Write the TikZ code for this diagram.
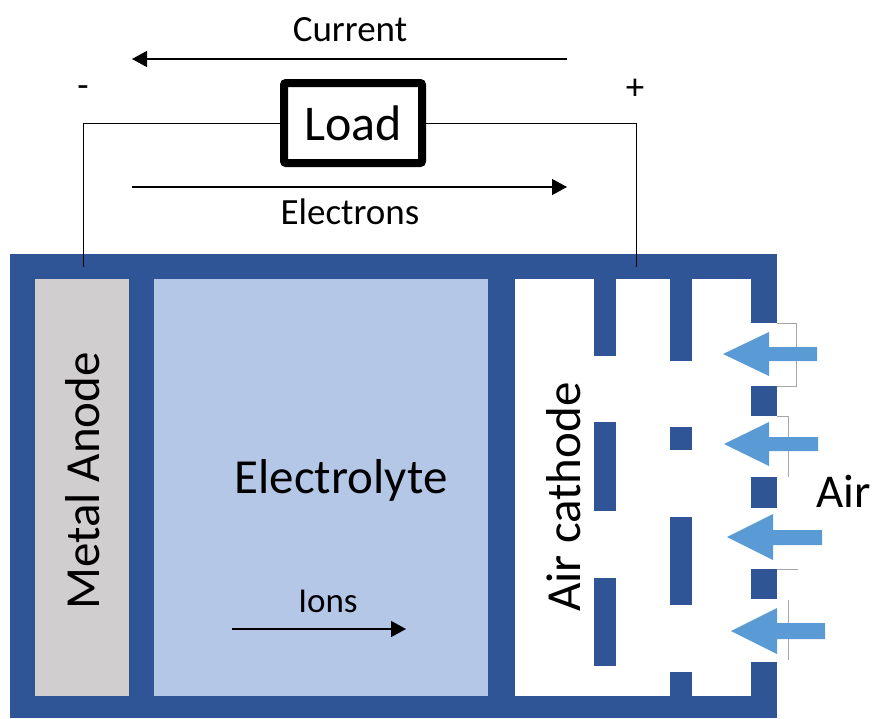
\documentclass[tikz,border=0pt]{standalone}
\usepackage{fontspec}
\setmainfont{Carlito}
\usetikzlibrary{arrows.meta}
\definecolor{frameblue}{HTML}{2F5597}
\definecolor{elecblue}{HTML}{B4C7E7}
\definecolor{anodegray}{HTML}{D0CECE}
\definecolor{airblue}{HTML}{5B9BD5}
\definecolor{brackgray}{HTML}{A6A6A6}
\newcommand\myairarrow[7]{%
  \fill[airblue] (#1,#2) -- (#3,#2-#5) -- (#3,#2-#6) -- (#4,#2-#6) -- (#4,#2+#7) -- (#3,#2+#7) -- (#3,#2+#5) -- cycle;}
\begin{document}
\begin{tikzpicture}[x=1pt,y=-1pt,
  lbl/.style={inner sep=0pt, font=\fontsize{37}{40}\selectfont},
  biglbl/.style={inner sep=0pt, font=\fontsize{49}{52}\selectfont},
  wire/.style={draw=black, line width=1pt},
  flow/.style={draw=black, line width=1.3pt, -{Triangle[length=15pt,width=16pt]}},
  bracket/.style={draw=brackgray, line width=1pt},
  loadbox/.style={draw=black, line width=8pt, rounded corners=2pt, fill=white,
    minimum width=138pt, minimum height=80pt, inner sep=0pt,
    font=\fontsize{50}{52}\selectfont}]
\useasboundingbox (0,0) rectangle (874,718);
% frame
\fill[frameblue] (10,254) rectangle (777,718);
\fill[anodegray] (35,279) rectangle (129,696);
\fill[elecblue] (154,279) rectangle (488,696);
\fill[white] (515,279) rectangle (751,696);
% openings in right wall
\foreach \a/\b in {323/386, 416/477, 508/569, 599/662}
  \fill[white] (750,\a) rectangle (778,\b);
% cathode bars
\fill[frameblue] (594,270) rectangle (616,356);
\fill[frameblue] (594,422) rectangle (616,511);
\fill[frameblue] (594,578) rectangle (616,666);
\fill[frameblue] (670,270) rectangle (692,361);
\fill[frameblue] (670,427) rectangle (692,450);
\fill[frameblue] (670,517) rectangle (692,605);
\fill[frameblue] (670,672) rectangle (692,696);
% brackets
\draw[bracket] (777,323) -- (796,323) -- (796,386) -- (777,386);
\draw[bracket] (777,416) -- (788,416) -- (788,477);
\draw[bracket] (777,569) -- (798,569);
\draw[bracket] (788,600) -- (788,660);
% air arrows
\myairarrow{723}{354}{769}{817}{22}{7}{7}
\myairarrow{724}{444}{769}{818}{22}{7}{7}
\myairarrow{727}{537}{773}{822}{23}{7}{8}
\myairarrow{731}{631}{777}{825}{23}{8}{8}
% load and wires
\node[loadbox] (load) at (353,123) {Load};
\coordinate (aterm) at (83,267);
\coordinate (cterm) at (636,267);
\draw[wire] (aterm) |- (load);
\draw[wire] (cterm) |- (load);
% flow arrows
\coordinate (curS) at (567,59);
\coordinate (curE) at (132,59);
\coordinate (eleS) at (132,187);
\coordinate (eleE) at (567,187);
\coordinate (ionS) at (232,629);
\coordinate (ionE) at (406,629);
\draw[flow] (curS) -- (curE);
\draw[flow] (eleS) -- (eleE);
\draw[flow] (ionS) -- (ionE);
% labels
\node[lbl, anchor=base] (current) at (350,41) {Current};
\node[lbl, anchor=base] (electrons) at (350,224) {Electrons};
\node[lbl, anchor=base] (minus) at (83,97) {-};
\node[lbl, anchor=base] (plus) at (635,99) {+};
\node[lbl, anchor=base, font=\fontsize{35}{38}\selectfont] (ions) at (328,612) {Ions};
\node[biglbl, anchor=base] (electrolyte) at (341,493) {Electrolyte};
\node[biglbl, anchor=base, rotate=90] (anode) at (99,481) {Metal Anode};
\node[biglbl, anchor=base, rotate=90] (cathode) at (580,497) {Air cathode};
\node[inner sep=0pt, anchor=base west, font=\fontsize{47}{50}\selectfont] (air) at (816,507) {Air};
\end{tikzpicture}
\end{document}
